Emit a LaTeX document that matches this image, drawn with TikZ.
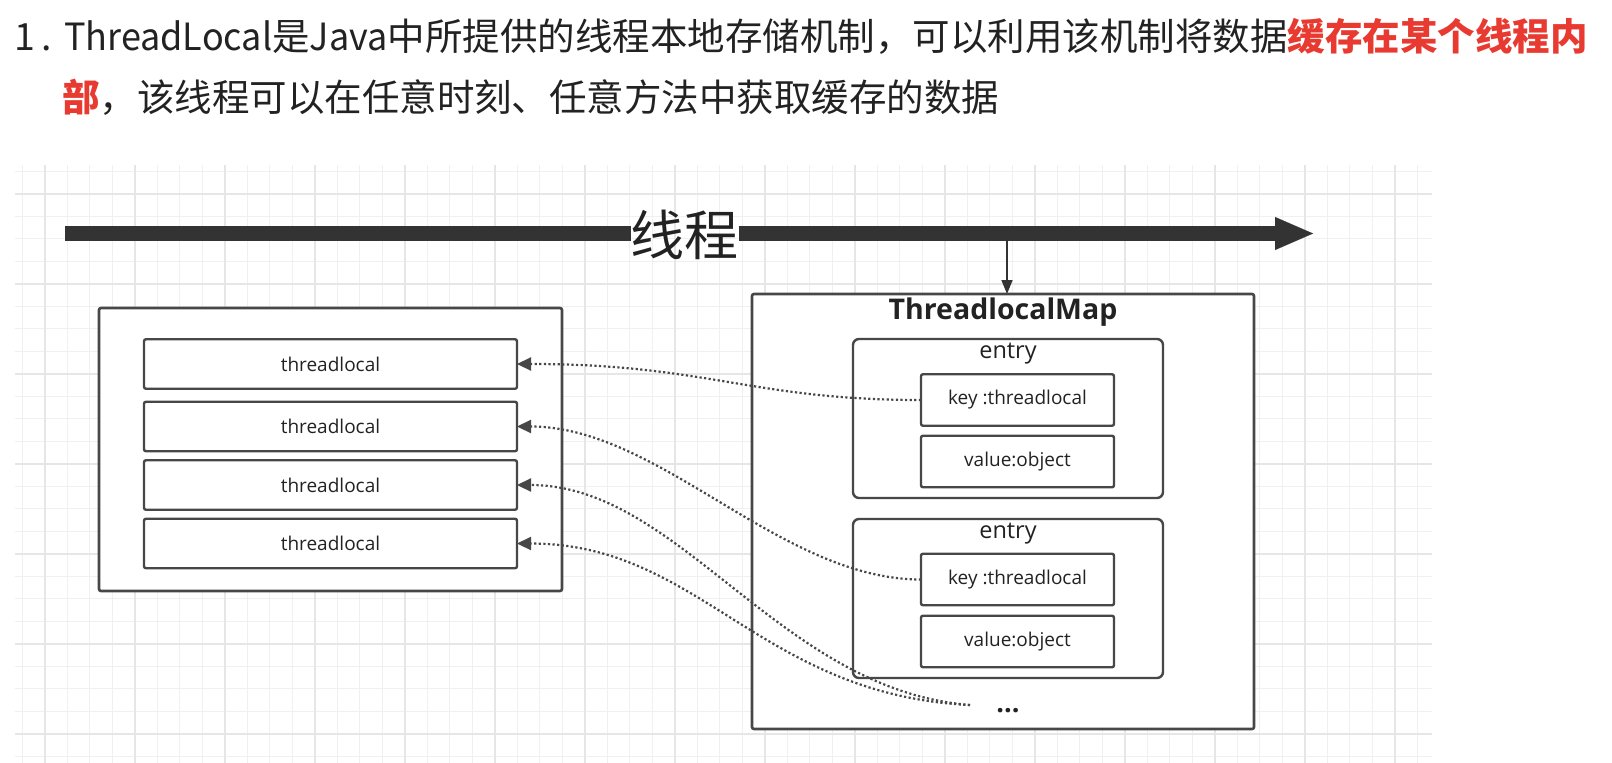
\documentclass[tikz,border=0pt]{standalone}
\usepackage{fontspec}
\usetikzlibrary{arrows.meta}
\newfontfamily\cjk{Noto Sans CJK SC}
\newfontfamily\osans{Open Sans}
\definecolor{hred}{RGB}{232,58,48}
\definecolor{ink}{HTML}{222222}
\definecolor{boxc}{HTML}{474747}
\definecolor{barc}{HTML}{333333}
\definecolor{gminor}{HTML}{F0F0F0}
\definecolor{gmajor}{HTML}{E6E6E6}
\begin{document}
\begin{tikzpicture}[x=1pt,y=-1pt,
  every node/.style={inner sep=0pt,outer sep=0pt},
  hdr/.style={anchor=base west,text=ink,font=\cjk\fontsize{37.5pt}{45pt}\selectfont},
  bigbox/.style={draw=boxc,line width=2.6pt,rounded corners=2pt,fill=white},
  tlbox/.style={draw=boxc,line width=2.4pt,rounded corners=2pt,fill=white,minimum width=373pt,minimum height=49.5pt,text=ink,font=\osans\fontsize{19pt}{22pt}\selectfont},
  entrybox/.style={draw=boxc,line width=2.4pt,rounded corners=6pt,fill=white,minimum width=310pt,minimum height=159pt},
  kvbox/.style={draw=boxc,line width=2.4pt,rounded corners=2pt,fill=white,minimum width=193pt,minimum height=51.5pt,text=ink,font=\osans\fontsize{19pt}{22pt}\selectfont},
  lbl/.style={text=ink,font=\osans\fontsize{23.5pt}{27pt}\selectfont},
  bar/.style={draw=barc,line width=15pt},
  conn/.style={draw=boxc,line width=2.2pt,dash pattern=on 2.2pt off 2.4pt,-{Triangle[length=14pt,width=13pt]}}]
\useasboundingbox (0,0) rectangle (1612,763);
\fill[white] (0,0) rectangle (1612,763);
% grid
\foreach \k in {0,...,62} \draw[gminor,line width=1.4pt] ({22.2+22.5*\k},165) -- ({22.2+22.5*\k},763);
\foreach \k in {0,...,26} \draw[gminor,line width=1.4pt] (15,{171.2+22.5*\k}) -- (1432,{171.2+22.5*\k});
\foreach \k in {0,...,15} \draw[gmajor,line width=1.8pt] ({44.7+90*\k},165) -- ({44.7+90*\k},763);
\foreach \k in {0,...,6} \draw[gmajor,line width=1.8pt] (15,{193.7+90*\k}) -- (1432,{193.7+90*\k});
% header
\node[hdr] (num) at (14,50) {1\hspace{7pt}.};
\node[hdr] (line1) at (64,50) {\scalebox{0.96}[1]{ThreadLocal}是\scalebox{0.96}[1]{Java}中所提供的线程本地存储机制，可以利用该机制将数据{\color{hred}\bfseries 缓存在某个线程内}};
\node[hdr] (line2) at (62,111) {{\color{hred}\bfseries 部}，该线程可以在任意时刻、任意方法中获取缓存的数据};
% thread bar
\node[anchor=base,text=ink,font=\cjk\fontsize{54pt}{60pt}\selectfont] (thread) at (684.5,255.5) {线程};
\coordinate (tstart) at (65,233.5);
\coordinate (tend) at (1313,233.5);
\draw[bar] (tstart) -- (thread.west |- tstart);
\draw[bar,-{Triangle[length=38pt,width=33pt,line width=0.1pt]}] (thread.east |- tstart) -- (tend);
% left box
\node[bigbox,minimum width=463pt,minimum height=283pt] (left) at (330.5,449.5) {};
\node[tlbox] (tl1) at (330.5,364) {threadlocal};
\node[tlbox] (tl2) at (330.5,426.5) {threadlocal};
\node[tlbox] (tl3) at (330.5,485) {threadlocal};
\node[tlbox] (tl4) at (330.5,543.5) {threadlocal};
% map box
\node[bigbox,minimum width=502pt,minimum height=435pt] (map) at (1003,511.5) {};
\node[text=ink,font=\osans\bfseries\fontsize{28.5pt}{32pt}\selectfont] (title) at (1003,312) {ThreadlocalMap};
\node[entrybox] (e1) at (1008,418.5) {};
\node[lbl] (e1l) at (1008,354) {entry};
\node[kvbox] (k1) at (1017.5,400) {key :threadlocal};
\node[kvbox] (v1) at (1017.5,461.5) {value:object};
\node[entrybox] (e2) at (1008,598.5) {};
\node[lbl] (e2l) at (1008,534) {entry};
\node[kvbox] (k2) at (1017.5,579.5) {key :threadlocal};
\node[kvbox] (v2) at (1017.5,641.5) {value:object};
\node[text=ink,font=\osans\bfseries\fontsize{27pt}{30pt}\selectfont] (dots) at (1008,711) {...};
\coordinate (more) at (970,705);
% small arrow
\coordinate (tap) at (1007,241);
\draw[draw=barc,line width=1.6pt,-{Triangle[length=14pt,width=11pt]}] (tap) -- (tap |- map.north);
% connectors
\draw[conn] (k1.west) .. controls +(-170,0) and +(190,0) .. (tl1.east);
\draw[conn] (k2.west) .. controls +(-141,0) and +(143,0) .. (tl2.east);
\draw[conn] (more) .. controls +(-190,-15) and +(163,0) .. (tl3.east);
\draw[conn] (more) .. controls +(-210,-10) and +(183,0) .. (tl4.east);
\end{tikzpicture}
\end{document}
